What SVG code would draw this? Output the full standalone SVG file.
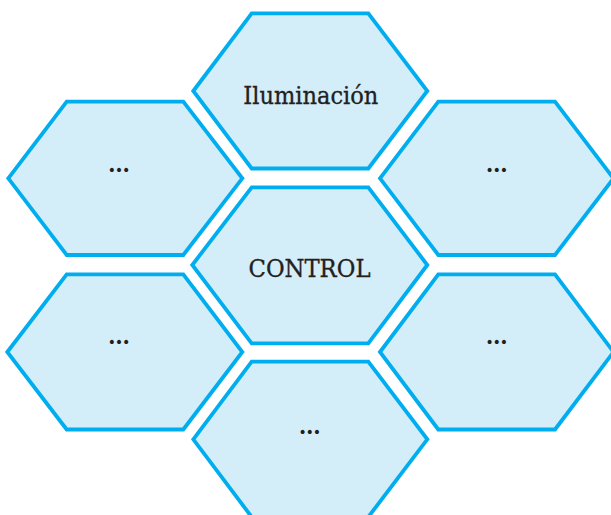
<svg xmlns="http://www.w3.org/2000/svg" width="611" height="515" viewBox="0 0 611 515">
<style>
.hex{fill:#D3EDF9;stroke:#00AEEF;stroke-width:3.8;stroke-linejoin:miter}
.lbl{font-family:"DejaVu Serif","Liberation Serif",serif;fill:#231F20;text-anchor:middle;stroke:#231F20;stroke-width:0.35}
.dots{font-family:"DejaVu Serif","Liberation Serif",serif;fill:#231F20;text-anchor:middle;font-size:22px;font-weight:bold}
</style>
<rect width="611" height="515" fill="#FFFFFF"/>
<g id="node-iluminacion">
<polygon class="hex" points="193.3,91 251.7,13.3 368.3,13.3 427.3,91 368.3,168.5 251.7,168.5"/>
<text class="lbl" x="310.8" y="104" font-size="25" textLength="135" lengthAdjust="spacingAndGlyphs">Iluminación</text>
</g>
<g id="node-upper-left">
<polygon class="hex" points="8.3,178.3 66.7,101.7 183.3,101.7 242.3,178.3 183.3,255 66.7,255"/>
<text class="dots" x="119" y="171.5">…</text>
</g>
<g id="node-upper-right">
<polygon class="hex" points="380,178.3 438.3,101.7 555,101.7 613.5,178.3 555,255 438.3,255"/>
<text class="dots" x="496.7" y="171.5">…</text>
</g>
<g id="node-control">
<polygon class="hex" points="192.3,265 251.7,187.3 368.3,187.3 427.3,265 368.3,343.3 251.7,343.3"/>
<text class="lbl" x="309.5" y="276.7" font-size="25" textLength="122" lengthAdjust="spacingAndGlyphs">CONTROL</text>
</g>
<g id="node-lower-left">
<polygon class="hex" points="7.3,352 66.7,274.3 183.3,274.3 242.3,352 183.3,429.5 66.7,429.5"/>
<text class="dots" x="119" y="343.8">…</text>
</g>
<g id="node-lower-right">
<polygon class="hex" points="380,352 438.3,274.3 555,274.3 613.5,352 555,429.5 438.3,429.5"/>
<text class="dots" x="496.7" y="343.8">…</text>
</g>
<g id="node-bottom">
<polygon class="hex" points="193.3,439.3 251.7,361.7 368.3,361.7 427.3,439.3 368.3,517 251.7,517"/>
<text class="dots" x="309.7" y="433.8">…</text>
</g>
<g id="connectors"/>
</svg>
